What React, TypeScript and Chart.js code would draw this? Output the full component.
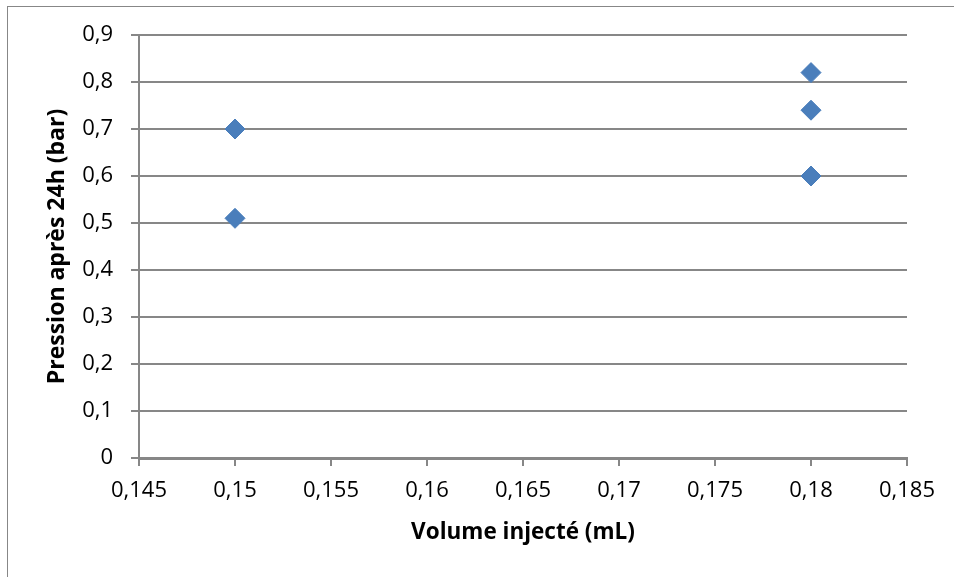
import React, { useEffect, useRef } from "react";
import { Chart, registerables } from "chart.js";

Chart.register(...registerables);

const volumes = [0.15, 0.15, 0.18, 0.18, 0.18];
const pressures = [0.7, 0.51, 0.82, 0.74, 0.6];
const xTitle = "Volume injecté (mL)";
const yTitle = "Pression après 24h (bar)";

const W = 954;
const H = 577;
const GRID = "#878787";
const FONT = "'Open Sans', 'DejaVu Sans', sans-serif";

const fmt = (v: number) => String(Number(v.toFixed(4))).replace(".", ",");

export default function App() {
  const ref = useRef<HTMLCanvasElement | null>(null);
  useEffect(() => {
    document.body.style.margin = "0";
    const canvas = ref.current!;
    const chart = new Chart(canvas, {
      type: "scatter",
      data: {
        datasets: [
          {
            data: volumes.map((x, i) => ({ x, y: pressures[i] })),
            backgroundColor: "#4A7EBB",
            borderColor: "#4A7EBB",
            pointStyle: "rectRot",
            pointRadius: 10,
            pointHoverRadius: 10,
            borderWidth: 1,
          },
        ],
      },
      options: {
        animation: false,
        responsive: false,
        maintainAspectRatio: false,
        layout: { padding: { top: 35, right: 47, left: 0, bottom: 0 } },
        plugins: { legend: { display: false }, tooltip: { enabled: false } },
        scales: {
          x: {
            type: "linear",
            min: 0.145,
            max: 0.185,
            afterFit: (s: any) => {
              s.height = 119;
            },
            afterBuildTicks: (s: any) => {
              const t = [];
              for (let i = 0; i <= 8; i++) t.push({ value: Number((0.145 + i * 0.005).toFixed(3)) });
              s.ticks = t;
            },
            ticks: {
              callback: (v: any) => fmt(Number(v)),
              color: "#000",
              font: { family: FONT, size: 22 },
              padding: 12,
              maxRotation: 0,
              autoSkip: false,
            },
            grid: {
              drawOnChartArea: false,
              drawTicks: true,
              tickLength: 8,
              color: GRID,
              lineWidth: 2,
            },
            border: { color: GRID, width: 3 },
            title: {
              display: true,
              text: xTitle,
              color: "#000",
              font: { family: FONT, size: 22.5, weight: "bold" },
              padding: { top: 0, bottom: 31 },
            },
          },
          y: {
            type: "linear",
            min: 0,
            max: 0.9,
            afterFit: (s: any) => {
              s.width = 139;
            },
            afterBuildTicks: (s: any) => {
              const t = [];
              for (let i = 0; i <= 9; i++) t.push({ value: Number((i * 0.1).toFixed(1)) });
              s.ticks = t;
            },
            ticks: {
              callback: (v: any) => fmt(Number(v)),
              color: "#000",
              font: { family: FONT, size: 22 },
              padding: 18,
              autoSkip: false,
            },
            grid: {
              drawTicks: true,
              tickLength: 8,
              color: GRID,
              lineWidth: 2,
            },
            border: { color: GRID, width: 2 },
            title: {
              display: true,
              text: yTitle,
              color: "#000",
              font: { family: FONT, size: 23, weight: "bold" },
              padding: { top: 44, bottom: 0 },
            },
          },
        },
      },
    });
    return () => chart.destroy();
  }, []);

  return (
    <div style={{ position: "relative", width: W, height: H, background: "#fff" }}>
      <canvas ref={ref} width={W} height={H} style={{ position: "absolute", left: 0, top: 0, width: W, height: H }} />
      <div
        style={{
          position: "absolute",
          left: 7,
          top: 6,
          width: W - 7,
          height: H - 6,
          borderLeft: "1px solid " + GRID,
          borderTop: "1px solid " + GRID,
          boxSizing: "border-box",
          pointerEvents: "none",
        }}
      />
    </div>
  );
}
